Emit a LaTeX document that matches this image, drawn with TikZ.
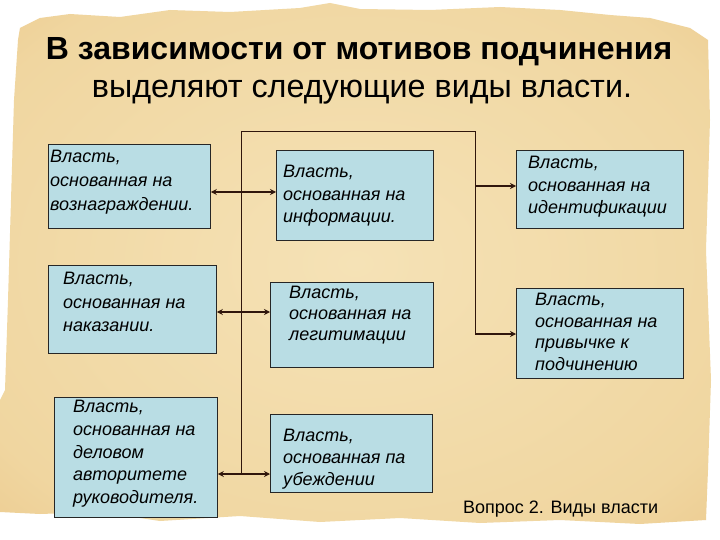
\documentclass[tikz,border=0pt]{standalone}
\usepackage{fontspec}
\setmainfont{Liberation Sans}
\usetikzlibrary{arrows.meta,calc}
\definecolor{parchlight}{RGB}{245,226,182}
\definecolor{parchmid}{RGB}{240,214,160}
\definecolor{parchmid2}{RGB}{233,194,130}
\definecolor{parchedge}{RGB}{222,166,96}
\definecolor{parchdark}{RGB}{214,156,86}
\definecolor{boxblue}{RGB}{185,221,228}
\definecolor{linebrown}{RGB}{48,22,12}
\pgfdeclareradialshading{parchshade}{\pgfpoint{0bp}{0bp}}{color(0bp)=(parchlight); color(30bp)=(parchmid); color(44bp)=(parchmid2); color(50bp)=(parchedge); color(100bp)=(parchdark)}
\begin{document}
\begin{tikzpicture}[x=1pt,y=-1pt,
  box/.style={draw=black!85, line width=0.8pt, fill=boxblue, inner sep=0pt, anchor=north west},
  txt/.style={anchor=north west, align=left, inner sep=0pt, font=\fontsize{18}{#1}\selectfont\itshape},
  frameline/.style={draw=linebrown, line width=1pt},
  arr/.style={draw=linebrown, line width=1.8pt, -{Stealth[length=6pt,width=6pt]}},
  darr/.style={draw=linebrown, line width=1.8pt, {Stealth[length=6pt,width=6pt]}-{Stealth[length=6pt,width=6pt]}},
]
\useasboundingbox (0,0) rectangle (720,540);
\fill[white] (0,0) rectangle (720,540);
% parchment
\shade[shading=parchshade]
  (20,28) -- (40,18) -- (70,14) -- (120,17) -- (170,10) -- (230,12) -- (300,8) -- (330,3)
  -- (360,9) -- (430,10) -- (500,7) -- (560,10) -- (610,15) -- (650,18) -- (690,28) -- (708,40)
  -- (710,120) -- (706,250) -- (711,380) -- (708,470) -- (706,520)
  -- (640,524) -- (560,520) -- (480,523) -- (400,518) -- (320,522) -- (240,516) -- (160,521)
  -- (100,512) -- (40,514) -- (0,512) -- (0,400) -- (5,390) -- (8,300) -- (11,200) -- (14,100) -- (18,40) -- cycle;
% title
\node[anchor=base, inner sep=0pt, font=\fontsize{32}{32}\selectfont\bfseries] (title1) at (359,60) {В зависимости от мотивов подчинения};
\node[anchor=base, inner sep=0pt, font=\fontsize{32.3}{32}\selectfont] (title2) at (362,98) {выделяют следующие виды власти.};
% boxes
\node[box, minimum width=162pt, minimum height=84pt] (L1) at (48,144) {};
\node[box, minimum width=168pt, minimum height=88pt] (L2) at (48,265) {};
\node[box, minimum width=163pt, minimum height=120pt] (L3) at (54,397) {};
\node[box, minimum width=157pt, minimum height=90pt] (M1) at (276,150) {};
\node[box, minimum width=163pt, minimum height=85pt] (M2) at (270,282) {};
\node[box, minimum width=162pt, minimum height=78pt] (M3) at (270,414) {};
\node[box, minimum width=167pt, minimum height=78pt] (R1) at (516,150) {};
\node[box, minimum width=167pt, minimum height=90pt] (R2) at (516,288) {};
% texts
\node[txt=24] (tL1) at (50,150) {Власть,\\основанная на\\вознаграждении.};
\node[txt=23.5] (tL2) at (63,272) {Власть,\\основанная на\\наказании.};
\node[txt=22.75] (tL3) at (73,400) {Власть,\\основанная на\\деловом\\авторитете\\руководителя.};
\node[txt=22.5] (tM1) at (283,165) {Власть,\\основанная на\\информации.};
\node[txt=21] (tM2) at (289,286) {Власть,\\основанная на\\легитимации};
\node[txt=22] (tM3) at (283,429) {Власть,\\основанная па\\убеждении};
\node[txt=22.5] (tR1) at (528,156) {Власть,\\основанная на\\идентификации};
\node[txt=21.7] (tR2) at (535,293) {Власть,\\основанная на\\привычке к\\подчинению};
% connector frame
\coordinate (yA) at (0,192);
\coordinate (yB) at (0,312);
\coordinate (yC) at (0,474);
\coordinate (yD) at (0,186);
\coordinate (yE) at (0,334);
\coordinate (cTL) at (241,132);
\coordinate (cTR) at (475,132);
\draw[frameline] (cTL |- yC) -- (cTL) -- (cTR) -- (cTR |- yE);
\draw[darr] (L1.east |- yA) -- (M1.west |- yA);
\draw[darr] (L2.east |- yB) -- (M2.west |- yB);
\draw[darr] (L3.east |- yC) -- (M3.west |- yC);
\draw[arr] (cTR |- yD) -- (R1.west |- yD);
\draw[arr] (cTR |- yE) -- (R2.west |- yE);
% footer
\node[anchor=base west, inner sep=0pt, font=\fontsize{18}{18}\selectfont] (foot) at (463,513) {Вопрос 2. Виды власти};
\end{tikzpicture}
\end{document}
